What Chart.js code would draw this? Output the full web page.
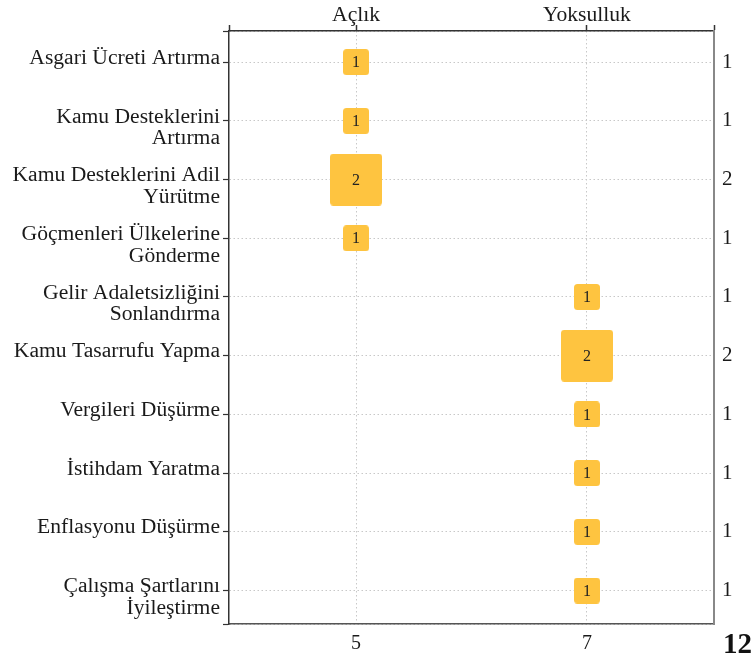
<!DOCTYPE html>
<html>
<head>
<meta charset="utf-8">
<script src="https://cdn.jsdelivr.net/npm/chart.js@4/dist/chart.umd.min.js"></script>
<style>
  html, body { margin: 0; padding: 0; background: #fff; }
  #wrap { width: 755px; height: 666px; position: relative; }
</style>
</head>
<body>
<div id="wrap"><canvas id="matrixChart"></canvas></div>
<script>
// ===================================
// DATA
// ===================================
const rowLabels = [
    ['Asgari Ücreti Artırma'],
    ['Kamu Desteklerini', 'Artırma'],
    ['Kamu Desteklerini Adil', 'Yürütme'],
    ['Göçmenleri Ülkelerine', 'Gönderme'],
    ['Gelir Adaletsizliğini', 'Sonlandırma'],
    ['Kamu Tasarrufu Yapma'],
    ['Vergileri Düşürme'],
    ['İstihdam Yaratma'],
    ['Enflasyonu Düşürme'],
    ['Çalışma Şartlarını', 'İyileştirme']
];
const colLabels = ['Açlık', 'Yoksulluk'];
const colTicks = [5, 7];
const cellCol = [0, 0, 0, 0, 1, 1, 1, 1, 1, 1];
const cellCount = [1, 1, 2, 1, 1, 2, 1, 1, 1, 1];
const rowTotals = [1, 1, 2, 1, 1, 2, 1, 1, 1, 1];
const grandTotal = 12;

const X_MIN = 3.9, X_MAX = 8.1;
const Y_MIN = -0.53, Y_MAX = 9.57;
const SERIF = "'Liberation Serif', 'Times New Roman', serif";
const BOX_COLOR = 'rgb(254, 196, 64)';

// rounded square used as point style, side grows with the count
const boxCache = {};
function makeBox(v) {
    if (boxCache[v]) return boxCache[v];
    const side = 26 * v;
    const c = document.createElement('canvas');
    c.width = side; c.height = side;
    const g = c.getContext('2d');
    g.fillStyle = BOX_COLOR;
    g.beginPath();
    g.roundRect(0, 0, side, side, 3.5);
    g.fill();
    boxCache[v] = c;
    return c;
}

const points = rowLabels.map((_, i) => ({ x: colTicks[cellCol[i]], y: i, v: cellCount[i] }));

// ===================================
// PLUGINS
// ===================================
const boxLabels = {
    id: 'boxLabels',
    afterDatasetsDraw(chart) {
        const { ctx } = chart;
        const meta = chart.getDatasetMeta(0);
        ctx.save();
        ctx.font = '16px ' + SERIF;
        ctx.fillStyle = '#222';
        ctx.textAlign = 'center';
        ctx.textBaseline = 'middle';
        meta.data.forEach((el, i) => {
            ctx.fillText(String(points[i].v), el.x, el.y + 1);
        });
        ctx.restore();
    },
    afterDraw(chart) {
        const { ctx } = chart;
        ctx.save();
        ctx.font = 'bold 29px ' + SERIF;
        ctx.fillStyle = '#111';
        ctx.textAlign = 'right';
        ctx.textBaseline = 'middle';
        ctx.fillText(String(grandTotal), 752, 646);
        ctx.restore();
    }
};

const edgeTicks = (vals) => (scale) => { scale.ticks = vals.map(v => ({ value: v })); };

new Chart(document.getElementById('matrixChart'), {
    type: 'scatter',
    data: {
        datasets: [{
            data: points,
            pointStyle: (c) => makeBox(c.raw ? c.raw.v : 1),
            pointRadius: 13,
            pointHoverRadius: 13
        }]
    },
    options: {
        responsive: true,
        maintainAspectRatio: false,
        animation: false,
        layout: { padding: 0 },
        plugins: { legend: { display: false }, tooltip: { enabled: false } },
        scales: {
            x: {
                type: 'linear', position: 'bottom', min: X_MIN, max: X_MAX,
                afterBuildTicks: edgeTicks(colTicks),
                afterFit: (s) => { s.height = 42; },
                grid: { color: '#c8c8c8', drawTicks: false },
                border: { color: '#555', width: 1.5, dash: [1.5, 2.5] },
                ticks: { padding: 8, color: '#1a1a1a', font: { family: SERIF, size: 20 },
                         callback: (v) => String(v) }
            },
            x2: {
                type: 'linear', position: 'top', min: X_MIN, max: X_MAX,
                afterBuildTicks: edgeTicks([X_MIN, ...colTicks, X_MAX]),
                afterFit: (s) => { s.height = 31; },
                grid: { drawOnChartArea: false, tickLength: 6, tickColor: '#333', tickWidth: 1.5 },
                border: { color: '#333', width: 1.5 },
                ticks: { padding: -3, color: '#1a1a1a', font: { family: SERIF, size: 21.6 }, maxRotation: 0,
                         callback: (v) => { const k = colTicks.indexOf(v); return k >= 0 ? colLabels[k] : ''; } }
            },
            y: {
                type: 'linear', position: 'left', reverse: true, min: Y_MIN, max: Y_MAX,
                afterBuildTicks: edgeTicks([Y_MIN, ...rowLabels.map((_, i) => i), Y_MAX]),
                afterFit: (s) => { s.width = 229; },
                grid: { color: '#c8c8c8', tickLength: 6, tickColor: '#333', tickWidth: 1.2, tickBorderDash: [] },
                border: { color: '#333', width: 1.5, dash: [1.5, 2.5] },
                ticks: {
                    autoSkip: false, padding: 3, labelOffset: -4, color: '#1a1a1a',
                    font: { family: SERIF, size: 21.6, lineHeight: 1.0 },
                    callback: (v) => {
                        if (!Number.isInteger(v)) return '';
                        const l = rowLabels[v];
                        return l.length > 1 ? ['', ...l] : l[0];
                    }
                }
            },
            y2: {
                type: 'linear', position: 'right', reverse: true, min: Y_MIN, max: Y_MAX,
                afterBuildTicks: edgeTicks(rowLabels.map((_, i) => i)),
                afterFit: (s) => { s.width = 41; },
                grid: { drawOnChartArea: false, drawTicks: false },
                border: { color: '#888', width: 2 },
                ticks: { autoSkip: false, padding: 8, color: '#1a1a1a', font: { family: SERIF, size: 21 },
                         callback: (v) => Number.isInteger(v) ? String(rowTotals[v]) : '' }
            }
        }
    },
    plugins: [boxLabels]
});
</script>
</body>
</html>
